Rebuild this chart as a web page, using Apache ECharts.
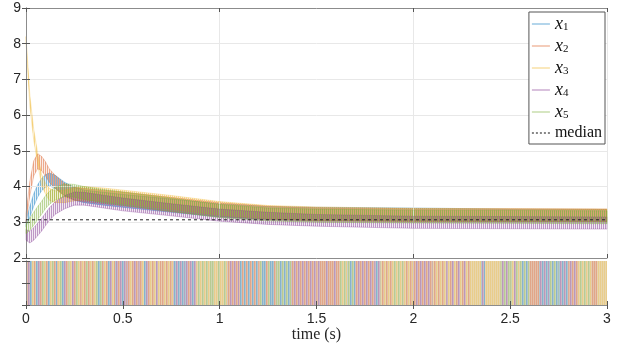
<!DOCTYPE html>
<html><head><meta charset="utf-8">
<script src="https://cdn.jsdelivr.net/npm/echarts@6/dist/echarts.min.js"></script>
<style>html,body{margin:0;padding:0;background:#fff}#c{width:628px;height:347px}</style>
</head><body><div id="c"></div>
<script>
// ---- data ----
const times = [0, 0.02, 0.04, 0.06, 0.08, 0.10, 0.12, 0.15, 0.20, 0.25, 0.30, 0.40, 0.50, 0.75, 1.00, 1.25, 1.50, 2.00, 2.50, 3.00];
// lower / upper envelope of each agent's oscillation band
const x1Lo = [2.88, 3.15, 3.45, 3.70, 3.88, 3.98, 4.02, 3.95, 3.75, 3.62, 3.55, 3.48, 3.42, 3.28, 3.15, 3.08, 3.05, 3.04, 3.02, 3.00];
const x1Hi = [3.05, 3.45, 3.80, 4.05, 4.22, 4.33, 4.38, 4.32, 4.12, 3.98, 3.90, 3.84, 3.78, 3.65, 3.52, 3.44, 3.42, 3.40, 3.37, 3.36];
const x2Lo = [3.00, 3.75, 4.30, 4.50, 4.45, 4.30, 4.12, 3.95, 3.72, 3.62, 3.58, 3.52, 3.46, 3.30, 3.16, 3.08, 3.04, 3.02, 3.02, 3.02];
const x2Hi = [3.25, 4.15, 4.72, 4.92, 4.85, 4.70, 4.50, 4.32, 4.08, 3.98, 3.95, 3.90, 3.85, 3.70, 3.55, 3.45, 3.41, 3.38, 3.38, 3.37];
const x3Lo = [8.05, 6.25, 5.30, 4.65, 4.05, 3.80, 3.62, 3.55, 3.55, 3.60, 3.62, 3.58, 3.52, 3.36, 3.20, 3.10, 3.05, 3.03, 3.02, 3.02];
const x3Hi = [8.20, 6.55, 5.60, 4.95, 4.35, 4.10, 3.95, 3.88, 3.90, 3.96, 4.00, 3.96, 3.90, 3.75, 3.58, 3.47, 3.43, 3.39, 3.38, 3.37];
const x4Lo = [2.50, 2.42, 2.50, 2.62, 2.75, 2.90, 3.05, 3.22, 3.38, 3.48, 3.48, 3.40, 3.32, 3.18, 3.03, 2.94, 2.89, 2.83, 2.82, 2.81];
const x4Hi = [2.80, 2.75, 2.85, 2.97, 3.10, 3.25, 3.40, 3.57, 3.75, 3.85, 3.84, 3.76, 3.68, 3.52, 3.37, 3.28, 3.22, 3.17, 3.16, 3.15];
const x5Lo = [2.68, 2.78, 2.92, 3.08, 3.22, 3.38, 3.50, 3.62, 3.72, 3.70, 3.64, 3.55, 3.48, 3.30, 3.13, 3.04, 3.00, 2.98, 2.97, 2.96];
const x5Hi = [2.95, 3.12, 3.28, 3.44, 3.58, 3.74, 3.86, 3.98, 4.08, 4.06, 4.00, 3.92, 3.85, 3.68, 3.50, 3.40, 3.37, 3.34, 3.33, 3.32];
const medianTimes = [0, 3];
const medianValues = [3.07, 3.07];
const seriesNames = ['x1', 'x2', 'x3', 'x4', 'x5'];
const xTicksTop = [0, 1, 2, 3];
const xTicksBottom = [0, 0.5, 1, 1.5, 2, 2.5, 3];
const yTicks = [2, 3, 4, 5, 6, 7, 8, 9];
// event strip: segment edges (s) and the agents (1-5) that trigger within each segment
const stripEdges = [0, 0.05, 0.10, 0.16, 0.22, 0.28, 0.34, 0.40, 0.46, 0.52, 0.58, 0.64, 0.70, 0.76, 0.82, 0.88, 0.96, 1.04, 1.10, 1.20, 1.30, 1.37, 1.50, 1.62, 1.66, 1.70, 1.80, 1.83, 1.90, 1.95, 2.00, 2.10, 2.17, 2.27, 2.30, 2.35, 2.37, 2.45, 2.50, 2.55, 2.60, 2.65, 2.70, 2.75, 2.80, 2.85, 2.92, 2.95, 3.00];
const stripAgents = ['3241', '25314', '1352', '51423', '4253', '2325', '52351', '3214', '4142', '2324', '1423', '2343', '3232', '4141', '1424', '35', '353', '24', '12', '1251', '15', '24', '2224', '53', '51', '24', '14', '32', '35', '32', '4242', '32', '243', '23', '3', '14', '3', '54', '534', '51', '2', '41', '15', '41', '24', '53', '2', '3'];

// ---- styling ----
const palette = ['#0072BD', '#D95319', '#EDB120', '#7E2F8E', '#77AC30'];
const lows = [x1Lo, x2Lo, x3Lo, x4Lo, x5Lo];
const highs = [x1Hi, x2Hi, x3Hi, x4Hi, x5Hi];
function rgba(hex, a) {
  const n = parseInt(hex.slice(1), 16);
  return 'rgba(' + (n >> 16 & 255) + ',' + (n >> 8 & 255) + ',' + (n & 255) + ',' + a + ')';
}
function bandPattern(hex, k) {
  const c = document.createElement('canvas');
  c.width = 2; c.height = 2;
  const g = c.getContext('2d');
  g.fillStyle = rgba(hex, 0.5); g.fillRect(k % 2, 0, 1, 2);
  g.fillStyle = rgba(hex, 0.1); g.fillRect((k + 1) % 2, 0, 1, 2);
  return { image: c, repeat: 'repeat' };
}
function stripPattern(agents) {
  const c = document.createElement('canvas');
  c.width = agents.length * 2; c.height = 2;
  const g = c.getContext('2d');
  for (let i = 0; i < agents.length; i++) {
    const col = palette[+agents[i] - 1];
    g.fillStyle = rgba(col, 0.42); g.fillRect(2 * i, 0, 1, 2);
    g.fillStyle = rgba(col, 0.24); g.fillRect(2 * i + 1, 0, 1, 2);
  }
  return { image: c, repeat: 'repeat' };
}
const stripPatterns = stripAgents.map(stripPattern);

const AX = '#8c8c8c', GRID = '#e8e8e8', TXT = '#262626';
const chart = echarts.init(document.getElementById('c'), null, { renderer: 'canvas' });

const series = [];
seriesNames.forEach((nm, k) => {
  const pat = bandPattern(palette[k], k);
  series.push({
    type: 'custom', name: nm + ' band', xAxisIndex: 0, yAxisIndex: 0, z: 3 + k, silent: true,
    data: [[0, 0]],
    renderItem: function (params, api) {
      const pts = [];
      for (let i = 0; i < times.length; i++) pts.push(api.coord([times[i], highs[k][i]]));
      for (let i = times.length - 1; i >= 0; i--) pts.push(api.coord([times[i], lows[k][i]]));
      return { type: 'polygon', shape: { points: pts },
        style: { fill: pat, stroke: rgba(palette[k], 0.28), lineWidth: 1 } };
    }
  });
  series.push({
    type: 'line', name: nm, xAxisIndex: 0, yAxisIndex: 0, data: [], symbol: 'none',
    lineStyle: { color: rgba(palette[k], 0.55), width: 1 }, itemStyle: { color: rgba(palette[k], 0.55) }
  });
});
series.push({
  type: 'line', name: 'median', xAxisIndex: 0, yAxisIndex: 0, z: 10, symbol: 'none', silent: true,
  data: medianTimes.map((t, i) => [t, medianValues[i]]),
  lineStyle: { color: '#222', width: 1, type: [3, 3] }, itemStyle: { color: '#222' }
});
series.push({
  type: 'custom', name: 'events', xAxisIndex: 2, yAxisIndex: 2, z: 1, silent: true,
  encode: { x: [0, 1] },
  data: stripAgents.map((a, i) => [stripEdges[i], stripEdges[i + 1], i]),
  renderItem: function (params, api) {
    const p0 = api.coord([api.value(0), 1]);
    const p1 = api.coord([api.value(1), 0]);
    const shape = { x: p0[0], y: p0[1], width: p1[0] - p0[0], height: p1[1] - p0[1] };
    return { type: 'group', children: [
      { type: 'rect', shape: shape, style: { fill: 'rgba(170,150,120,0.28)' } },
      { type: 'rect', shape: shape, style: { fill: stripPatterns[api.value(2)] } }
    ] };
  }
});

const tick = { show: true, inside: true, length: 4, lineStyle: { color: '#555' } };
const line = { show: true, lineStyle: { color: AX, width: 1 } };
const labelFont = { fontFamily: 'Liberation Sans', fontSize: 14, color: TXT };
const lineIcon = 'path://M0 0H18V1H0Z';
const dashIcon = 'path://M0 0H2V1H0ZM4 0H6V1H4ZM8 0H10V1H8ZM12 0H14V1H12ZM16 0H18V1H16Z';

chart.setOption({
  animation: false,
  backgroundColor: '#fff',
  grid: [
    { left: 26, right: 21, top: 8, height: 250 },
    { left: 26, right: 21, top: 261, height: 44 }
  ],
  xAxis: [
    { gridIndex: 0, type: 'value', position: 'bottom', min: xTicksTop[0], max: xTicksTop[xTicksTop.length - 1], interval: 1,
      axisLine: line, axisTick: tick, axisLabel: { show: false }, splitLine: { show: true, lineStyle: { color: GRID } }, z: 5 },
    { gridIndex: 0, type: 'value', position: 'top', min: 0, max: 3, interval: 1,
      axisLine: line, axisTick: tick, axisLabel: { show: false }, splitLine: { show: false }, z: 5 },
    { gridIndex: 1, type: 'value', position: 'bottom', min: xTicksBottom[0], max: xTicksBottom[xTicksBottom.length - 1], interval: 0.5,
      axisLine: line, axisTick: tick, splitLine: { show: false }, z: 5,
      axisLabel: Object.assign({ margin: 7, formatter: v => String(v) }, labelFont),
      name: 'time (s)', nameLocation: 'middle', nameGap: 20,
      nameTextStyle: { fontFamily: 'Liberation Serif', fontSize: 16, color: TXT } },
    { gridIndex: 1, type: 'value', position: 'top', min: 0, max: 3, interval: 0.5,
      axisLine: line, axisTick: tick, axisLabel: { show: false }, splitLine: { show: false }, z: 5 }
  ],
  yAxis: [
    { gridIndex: 0, type: 'value', position: 'left', min: yTicks[0], max: yTicks[yTicks.length - 1], interval: 1,
      axisLine: line, axisTick: tick, splitLine: { show: true, lineStyle: { color: GRID } }, z: 5,
      axisLabel: Object.assign({ margin: 5 }, labelFont) },
    { gridIndex: 0, type: 'value', position: 'right', min: 2, max: 9, interval: 1,
      axisLine: line, axisTick: tick, axisLabel: { show: false }, splitLine: { show: false }, z: 5 },
    { gridIndex: 1, type: 'value', position: 'left', min: 0, max: 1, interval: 0.5,
      axisLine: line, axisTick: tick, axisLabel: { show: false }, splitLine: { show: false }, z: 5 },
    { gridIndex: 1, type: 'value', position: 'right', min: 0, max: 1, interval: 0.5,
      axisLine: line, axisTick: tick, axisLabel: { show: false }, splitLine: { show: false }, z: 5 }
  ],
  legend: {
    data: seriesNames.map((nm, k) => ({ name: nm, icon: lineIcon, itemStyle: { color: rgba(palette[k], 0.6), borderWidth: 0 } }))
      .concat([{ name: 'median', icon: dashIcon, itemStyle: { color: '#111', borderWidth: 0 } }]),
    orient: 'vertical', right: 23, top: 12, z: 20,
    backgroundColor: '#fff', borderColor: '#555', borderWidth: 1, borderRadius: 0,
    padding: [3, 3, 3, 3], itemGap: 4, itemWidth: 18, itemHeight: 14, selectedMode: false,
    formatter: function (name) {
      if (name === 'median') return '{m|median}';
      return '{v|x}{s|' + name.slice(1) + '}';
    },
    textStyle: {
      color: '#111',
      rich: {
        m: { fontFamily: 'Liberation Serif', fontSize: 16, lineHeight: 18, color: '#111' },
        v: { fontFamily: 'Liberation Serif', fontStyle: 'italic', fontSize: 18, lineHeight: 18, color: '#111' },
        s: { fontFamily: 'Liberation Serif', fontSize: 11, lineHeight: 6, verticalAlign: 'bottom', color: '#111' }
      }
    }
  },
  series: series
});
</script>
</body></html>
